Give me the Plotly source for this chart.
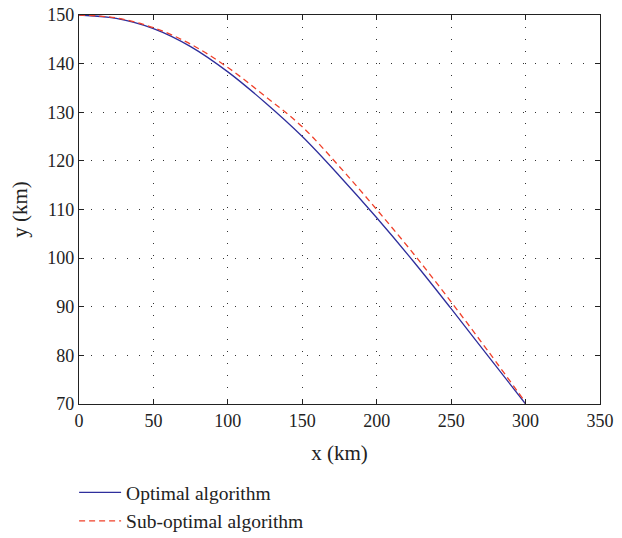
"""Trajectory comparison chart: optimal vs sub-optimal algorithm."""

import plotly.graph_objects as go

# Data (km)
x_km = [0, 25, 50, 75, 100, 125, 150, 175, 200, 225, 250, 275, 300]
y_optimal = [150, 149.3, 147.2, 143.5, 138.3, 132.0, 125.0, 116.9, 108.3, 99.2, 89.6, 79.8, 70.0]
y_suboptimal = [150, 149.4, 147.4, 144.0, 139.2, 133.3, 127.0, 118.8, 110.0, 100.8, 91.0, 80.8, 70.3]

x_ticks = [0, 50, 100, 150, 200, 250, 300, 350]
y_ticks = [70, 80, 90, 100, 110, 120, 130, 140, 150]

COLORS = {
    "optimal": "#2e2e9c",
    "suboptimal": "#f0402a",
    "axis": "#222222",
    "grid": "#333333",
}

FONT = "Liberation Serif, Times New Roman, serif"

fig = go.Figure()

fig.add_trace(
    go.Scatter(
        x=x_km,
        y=y_optimal,
        mode="lines",
        name="Optimal algorithm",
        line=dict(color=COLORS["optimal"], width=1.3, shape="spline"),
    )
)
fig.add_trace(
    go.Scatter(
        x=x_km,
        y=y_suboptimal,
        mode="lines",
        name="Sub-optimal algorithm",
        line=dict(color=COLORS["suboptimal"], width=1.3, dash="6px,4px", shape="spline"),
    )
)

axis_common = dict(
    showline=True,
    linecolor=COLORS["axis"],
    linewidth=1.2,
    mirror="ticks",
    ticks="inside",
    ticklen=5,
    tickcolor=COLORS["axis"],
    showgrid=True,
    gridcolor=COLORS["grid"],
    gridwidth=1,
    griddash="1px,11px",
    zeroline=False,
    automargin=False,
    ticklabeloverflow="allow",
    tickfont=dict(family=FONT, size=18, color="#222"),
)

fig.update_xaxes(
    range=[0, 350],
    tickvals=x_ticks,
    title=dict(text="x (km)", font=dict(family=FONT, size=21, color="#222")),
    **axis_common,
)
fig.update_yaxes(
    range=[70, 150],
    tickvals=y_ticks,
    title=dict(text="y (km)", font=dict(family=FONT, size=21, color="#222")),
    **axis_common,
)

# the page body adds an 8px offset, so size and margins are shifted to compensate
fig.update_layout(
    width=606,
    height=538,
    margin=dict(l=71, r=14, t=7, b=141),
    plot_bgcolor="#ffffff",
    paper_bgcolor="#ffffff",
    font=dict(family=FONT, size=18, color="#222"),
    showlegend=True,
    legend=dict(
        x=-0.0094,
        y=-0.175,
        xanchor="left",
        yanchor="top",
        bgcolor="rgba(0,0,0,0)",
        font=dict(family=FONT, size=19.5, color="#222"),
        itemwidth=42,
        tracegroupgap=0,
    ),
)

fig.write_html("out.html")
